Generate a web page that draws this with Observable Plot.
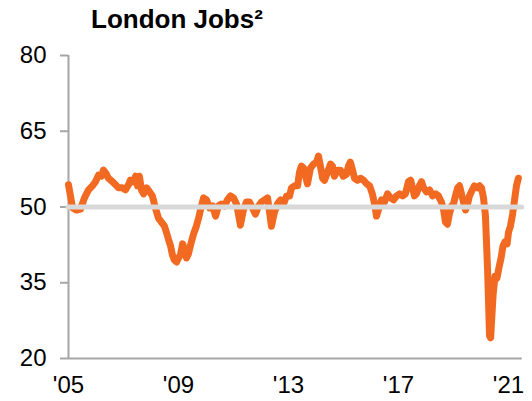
<!DOCTYPE html>
<html>
<head>
<meta charset="utf-8">
<script src="https://cdn.jsdelivr.net/npm/d3@7"></script>
<script src="https://cdn.jsdelivr.net/npm/@observablehq/plot@0.6"></script>
<style>
  html, body { margin: 0; padding: 0; background: #fff; }
  body { width: 532px; height: 401px; overflow: hidden; font-family: "Liberation Sans", Arial, sans-serif; }
  #title { position: relative; height: 40px; }
  #title span { position: absolute; left: 91px; top: 6px; font-size: 26px; line-height: 26px; font-weight: bold; color: #000; white-space: nowrap; }
</style>
</head>
<body>
<div id="title"><span>London Jobs²</span></div>
<div id="chart"></div>
<script>
const title = "London Jobs²";
const xTicks = [2005, 2009, 2013, 2017, 2021];
const xTickLabels = ["'05", "'09", "'13", "'17", "'21"];
const yTicks = [20, 35, 50, 65, 80];
const referenceLevel = [50];

const years = [
  2005.00, 2005.15, 2005.29, 2005.44, 2005.58, 2005.73, 2005.87, 2005.98, 2006.09, 2006.20,
  2006.27, 2006.38, 2006.45, 2006.60, 2006.75, 2006.82, 2006.96, 2007.07, 2007.18, 2007.25,
  2007.36, 2007.44, 2007.51, 2007.58, 2007.65, 2007.73, 2007.84, 2007.95, 2008.05, 2008.16,
  2008.27, 2008.38, 2008.49, 2008.56, 2008.64, 2008.71, 2008.78, 2008.85, 2008.93, 2009.00,
  2009.07, 2009.15, 2009.22, 2009.29, 2009.36, 2009.44, 2009.55, 2009.65, 2009.73, 2009.80,
  2009.91, 2010.02, 2010.13, 2010.24, 2010.35, 2010.45, 2010.56, 2010.67, 2010.78, 2010.89,
  2011.00, 2011.11, 2011.18, 2011.25, 2011.36, 2011.47, 2011.58, 2011.69, 2011.80, 2011.91,
  2012.02, 2012.13, 2012.24, 2012.31, 2012.38, 2012.49, 2012.60, 2012.71, 2012.82, 2012.93,
  2013.04, 2013.11, 2013.22, 2013.33, 2013.40, 2013.47, 2013.55, 2013.62, 2013.69, 2013.80,
  2013.91, 2014.02, 2014.09, 2014.16, 2014.24, 2014.31, 2014.42, 2014.53, 2014.60, 2014.67,
  2014.78, 2014.89, 2014.99, 2015.11, 2015.18, 2015.25, 2015.33, 2015.40, 2015.51, 2015.62,
  2015.73, 2015.84, 2015.95, 2016.05, 2016.13, 2016.20, 2016.27, 2016.38, 2016.49, 2016.60,
  2016.71, 2016.82, 2016.93, 2017.04, 2017.15, 2017.25, 2017.36, 2017.44, 2017.51, 2017.58,
  2017.65, 2017.76, 2017.84, 2017.91, 2018.02, 2018.13, 2018.24, 2018.35, 2018.45, 2018.56,
  2018.64, 2018.71, 2018.78, 2018.85, 2018.93, 2019.00, 2019.07, 2019.15, 2019.22, 2019.29,
  2019.36, 2019.44, 2019.51, 2019.58, 2019.65, 2019.76, 2019.87, 2019.95, 2020.02, 2020.09,
  2020.16, 2020.24, 2020.31, 2020.35, 2020.44, 2020.51, 2020.58, 2020.65, 2020.73, 2020.80,
  2020.87, 2020.95, 2021.00, 2021.07, 2021.15, 2021.22, 2021.29, 2021.36
];
const jobs = [
  54.4, 49.8, 49.4, 49.6, 51.8, 53.4, 54.2, 55.0, 56.3, 56.1,
  57.3, 56.5, 55.7, 55.0, 54.2, 53.8, 53.8, 53.4, 54.4, 55.3,
  55.0, 56.1, 54.2, 56.1, 53.4, 52.6, 53.8, 53.0, 52.2, 49.8,
  47.8, 47.0, 46.2, 45.0, 43.5, 42.3, 40.5, 39.5, 39.1, 39.9,
  40.5, 42.7, 41.5, 39.9, 40.7, 42.5, 44.7, 46.2, 47.8, 49.4,
  51.8, 51.4, 49.8, 50.2, 48.2, 50.2, 50.6, 50.2, 51.4, 52.2,
  51.8, 50.6, 48.6, 46.4, 49.4, 51.0, 51.0, 49.8, 48.6, 50.2,
  51.0, 51.4, 51.8, 49.0, 46.2, 49.0, 50.6, 51.4, 50.6, 52.2,
  52.2, 53.8, 54.2, 54.2, 56.9, 58.1, 57.7, 56.1, 54.6, 57.7,
  58.5, 58.9, 60.1, 58.1, 55.7, 55.3, 56.9, 58.5, 58.1, 56.1,
  57.3, 57.3, 56.1, 56.5, 58.1, 58.9, 57.3, 55.7, 55.3, 55.7,
  55.3, 54.6, 54.2, 52.6, 50.6, 48.2, 49.4, 51.4, 51.0, 52.6,
  51.8, 51.4, 52.2, 52.6, 52.2, 52.6, 55.0, 55.3, 53.8, 52.2,
  52.6, 54.2, 55.0, 53.8, 53.0, 53.4, 52.2, 52.6, 52.2, 51.0,
  49.4, 47.0, 46.6, 48.6, 50.2, 50.6, 52.2, 53.8, 54.2, 52.6,
  51.0, 49.4, 50.6, 52.2, 53.0, 54.2, 53.8, 54.2, 53.8, 51.8,
  48.4, 37.5, 24.5, 24.1, 32.6, 36.3, 35.9, 37.9, 39.9, 42.3,
  43.1, 42.7, 45.0, 46.2, 48.6, 51.4, 54.2, 55.7
];

const data = years.map((t, i) => ({ t, v: jobs[i] }));
const axisGray = "#a6a6a6";
const orange = "#f26a21";

const chart = Plot.plot({
  width: 532,
  height: 361,
  marginLeft: 68,
  marginRight: 10.25,
  marginTop: 15,
  marginBottom: 43,
  style: { fontFamily: "'Liberation Sans', Arial, sans-serif", fontSize: "24px", color: "#000", background: "#fff", overflow: "visible" },
  x: { domain: [2005, 2021.5], label: null },
  y: { domain: [20, 80], label: null },
  marks: [
    Plot.ruleY([20], { stroke: axisGray, strokeWidth: 2 }),
    Plot.ruleX([2005], { stroke: axisGray, strokeWidth: 2 }),
    Plot.axisY({ ticks: yTicks, tickSize: 8, tickPadding: 14, fontSize: 24, stroke: axisGray, strokeWidth: 2, label: null }),
    Plot.axisX({ ticks: xTicks, tickSize: 0, tickPadding: 17, fontSize: 24, label: null,
      tickFormat: d => xTickLabels[xTicks.indexOf(d)] }),
    Plot.line(data, { x: "t", y: "v", stroke: orange, strokeWidth: 7, strokeLinejoin: "round", strokeLinecap: "round" }),
    Plot.ruleY(referenceLevel, { stroke: "#d9d9d9", strokeWidth: 5, strokeLinecap: "round" })
  ]
});
document.getElementById("chart").appendChild(chart);
</script>
</body>
</html>
